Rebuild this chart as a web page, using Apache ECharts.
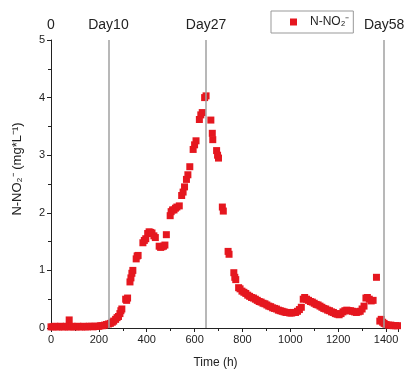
<!DOCTYPE html>
<html>
<head>
<meta charset="utf-8">
<script src="https://cdn.jsdelivr.net/npm/echarts@6/dist/echarts.min.js"></script>
<style>
  html, body { margin: 0; padding: 0; background: #fff; }
  #chart { width: 411px; height: 374px; }
</style>
</head>
<body>
<div id="chart"></div>
<script>
// time (h) and nitrite concentration
const hours = [
  0, 8, 16, 24, 32, 40, 48, 56, 64, 72, 76, 80, 88, 96, 104, 112, 120, 128, 136, 144,
  152, 160, 168, 176, 184, 192, 200, 208, 216, 224, 232, 240,
  248, 256, 262, 270, 276, 282, 288, 292, 296, 312, 316, 320,
  330, 334, 338, 342, 356, 360, 364, 384, 390, 396, 404, 410, 416, 422, 430, 436,
  452, 458, 464, 470, 476, 482, 498, 502, 508, 514, 520, 526,
  536, 546, 552, 558, 566, 572, 580, 594, 600, 606, 620, 626, 632, 642, 648,
  668, 674, 676, 692, 696, 700, 716, 720, 740, 744, 764, 768, 772,
  784, 790, 798, 806, 814, 822, 830, 838, 846, 854, 862, 870, 878, 886, 894, 902,
  910, 918, 926, 934, 942, 950, 958, 966, 974, 982, 990, 998, 1006, 1014, 1022, 1030,
  1038, 1046, 1054, 1060, 1068, 1076, 1084, 1092, 1100, 1108, 1116, 1124, 1132, 1140,
  1148, 1156, 1164, 1172, 1180, 1188, 1196, 1204, 1212, 1220, 1228, 1236, 1244, 1252,
  1260, 1268, 1276, 1284, 1292, 1300, 1308, 1316, 1322, 1330, 1338, 1346, 1360,
  1374, 1380, 1386, 1392, 1400, 1410, 1420, 1430, 1440, 1448
];
const nitrite = [
  0.02, 0.02, 0.03, 0.02, 0.02, 0.03, 0.02, 0.02, 0.03, 0.02, 0.14, 0.02, 0.03, 0.02, 0.02, 0.03, 0.02, 0.02, 0.03, 0.02,
  0.02, 0.03, 0.03, 0.02, 0.03, 0.03, 0.03, 0.04, 0.04, 0.05, 0.06, 0.07,
  0.08, 0.10, 0.12, 0.15, 0.18, 0.20, 0.25, 0.30, 0.33, 0.50, 0.48, 0.52,
  0.80, 0.87, 0.95, 1.00, 1.20, 1.25, 1.26, 1.48, 1.52, 1.55, 1.64, 1.67, 1.66, 1.65, 1.60, 1.57,
  1.42, 1.40, 1.41, 1.42, 1.44, 1.62, 1.95, 2.02, 2.05, 2.05, 2.08, 2.10,
  2.12, 2.30, 2.36, 2.45, 2.58, 2.66, 2.80, 3.10, 3.18, 3.25, 3.62, 3.70, 3.74, 4.00, 4.03,
  3.61, 3.38, 3.27, 3.08, 3.00, 2.95, 2.10, 2.03, 1.33, 1.28, 0.96, 0.88, 0.84,
  0.70, 0.68, 0.64, 0.62, 0.60, 0.57, 0.55, 0.53, 0.52, 0.50, 0.48, 0.46, 0.45, 0.43, 0.42, 0.40,
  0.38, 0.37, 0.35, 0.34, 0.33, 0.31, 0.30, 0.29, 0.28, 0.27, 0.27, 0.26, 0.26, 0.27, 0.27, 0.29,
  0.32, 0.36, 0.50, 0.53, 0.50, 0.48, 0.46, 0.45, 0.43, 0.41, 0.40, 0.38, 0.36, 0.34,
  0.33, 0.31, 0.30, 0.28, 0.27, 0.25, 0.24, 0.23, 0.25, 0.28, 0.30, 0.31, 0.30, 0.30,
  0.29, 0.28, 0.27, 0.28, 0.29, 0.33, 0.38, 0.52, 0.53, 0.50, 0.47, 0.48, 0.88,
  0.12, 0.15, 0.10, 0.08, 0.06, 0.05, 0.05, 0.04, 0.04, 0.04
];
// phase markers (hours) and their labels on the top
const phaseHours = [0, 240, 648, 1392];
const phaseLabels = ['0', 'Day10', 'Day27', 'Day58'];

const chart = echarts.init(document.getElementById('chart'));
const font = 'Liberation Sans, Arial, sans-serif';

chart.setOption({
  animation: false,
  textStyle: { fontFamily: font },
  grid: { left: 51, right: 13, top: 40, bottom: 46 },
  legend: {
    data: ['N-NO₂⁻'],
    left: 271, top: 11,
    icon: 'rect', itemWidth: 7, itemHeight: 7, itemGap: 6,
    padding: [5, 4, 5, 19],
    borderColor: '#999', borderWidth: 1,
    textStyle: { fontSize: 12, color: '#222', fontFamily: font, padding: [0, 0, 0, 8] },
  },
  xAxis: [{
    type: 'value',
    min: 0, max: 1450, interval: 200,
    name: 'Time (h)', nameLocation: 'middle', nameGap: 29,
    nameTextStyle: { fontSize: 12, color: '#222', padding: [0, 18, 0, 0] },
    axisLine: { lineStyle: { color: '#222', width: 1 } },
    axisTick: { inside: false, length: 4, lineStyle: { color: '#222' } },
    minorTick: { show: true, splitNumber: 2, length: 3, lineStyle: { color: '#222' } },
    axisLabel: { fontSize: 11, color: '#222', margin: 6, showMaxLabel: false, formatter: (v) => String(v) },
    splitLine: { show: false },
  }, {
    type: 'value',
    position: 'top',
    min: 0, max: 1450,
    axisLine: { show: false },
    axisTick: { show: false },
    splitLine: { show: false },
    axisLabel: {
      fontSize: 14, color: '#222', margin: 8,
      customValues: phaseHours,
      formatter: (v) => phaseLabels[phaseHours.indexOf(v)] ?? '',
    },
  }],
  yAxis: {
    type: 'value',
    min: 0, max: 5, interval: 1,
    name: 'N-NO₂⁻ (mg*L⁻¹)', nameLocation: 'middle', nameGap: 27,
    nameTextStyle: { fontSize: 13, color: '#222', padding: [0, 0, 0, 30] },
    axisLine: { show: true, lineStyle: { color: '#222', width: 1 } },
    axisTick: { show: true, length: 4, lineStyle: { color: '#222' } },
    minorTick: { show: true, splitNumber: 2, length: 3, lineStyle: { color: '#222' } },
    axisLabel: { fontSize: 11, color: '#222', margin: 6 },
    splitLine: { show: false },
  },
  series: [{
    name: 'N-NO₂⁻',
    type: 'scatter',
    symbol: 'rect',
    symbolSize: 7,
    itemStyle: { color: '#e5171f', opacity: 1 },
    data: hours.map((h, i) => [h, nitrite[i]]),
    markLine: {
      silent: true,
      symbol: 'none',
      label: { show: false },
      lineStyle: { color: '#a0a0a0', width: 1.5, type: 'solid' },
      data: phaseHours.slice(1).map((h) => ({ xAxis: h })),
    },
    z: 3,
  }],
});
</script>
</body>
</html>
